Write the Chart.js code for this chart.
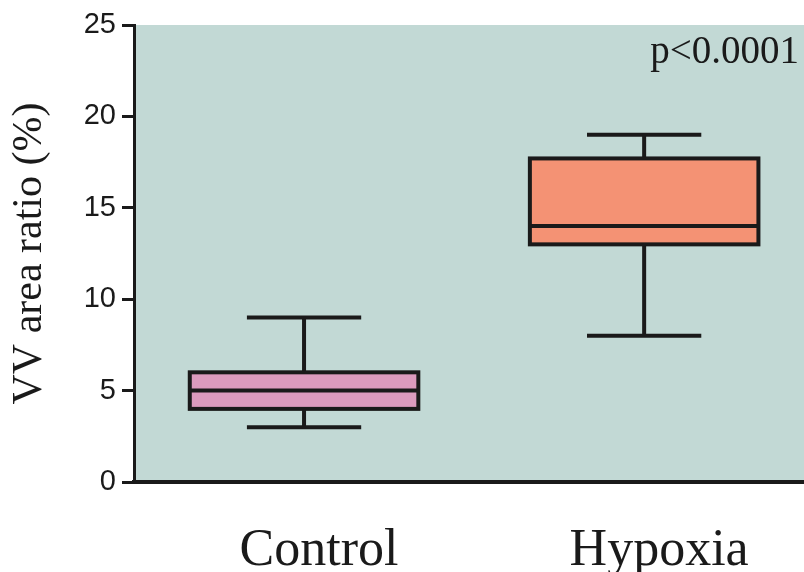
<!DOCTYPE html>
<html>
<head>
<meta charset="utf-8">
<script src="https://cdn.jsdelivr.net/npm/chart.js@4.4.1/dist/chart.umd.min.js"></script>
<style>
  html,body{margin:0;padding:0;background:#fff;}
  #wrap{width:804px;height:572px;}
</style>
</head>
<body>
<div id="wrap"><canvas id="box"></canvas></div>
<script>
    // Data
    const categories = ['Control','Hypoxia'];
    const whiskerLow = [3, 8];
    const q1 = [4, 13];
    const median = [5, 14];
    const q3 = [6, 17.7];
    const whiskerHigh = [9, 19];
    const yTicks = [0,5,10,15,20,25];
    const boxColors = ['#dc9bbe','#f49274'];
    const pText = 'p<0.0001';

    const ink = '#1a1a1a';

    // plot background + box outline, median, whiskers
    const boxPlot = {
      id:'boxPlot',
      beforeDraw(chart){
        const {ctx, chartArea:a} = chart;
        ctx.save();
        ctx.fillStyle = '#c2d9d5';
        ctx.fillRect(a.left, a.top, a.right-a.left, a.bottom-a.top);
        ctx.restore();
      },
      afterDatasetsDraw(chart){
        const {ctx} = chart;
        const y = chart.scales.y;
        const meta = chart.getDatasetMeta(0);
        ctx.save();
        ctx.strokeStyle = ink;
        ctx.lineWidth = 4;
        meta.data.forEach((el,i)=>{
          const half = el.width/2;
          const cap = el.width/4;
          const top = y.getPixelForValue(q3[i]), bot = y.getPixelForValue(q1[i]);
          const med = y.getPixelForValue(median[i]);
          const hi = y.getPixelForValue(whiskerHigh[i]), lo = y.getPixelForValue(whiskerLow[i]);
          ctx.beginPath();
          // whiskers
          ctx.moveTo(el.x, top); ctx.lineTo(el.x, hi);
          ctx.moveTo(el.x-cap, hi); ctx.lineTo(el.x+cap, hi);
          ctx.moveTo(el.x, bot); ctx.lineTo(el.x, lo);
          ctx.moveTo(el.x-cap, lo); ctx.lineTo(el.x+cap, lo);
          // median
          ctx.moveTo(el.x-half, med); ctx.lineTo(el.x+half, med);
          ctx.stroke();
          ctx.strokeRect(el.x-half, top, el.width, bot-top);
        });
        // p value
        ctx.fillStyle = ink;
        ctx.font = '39px "Liberation Serif"';
        ctx.textAlign = 'right';
        ctx.textBaseline = 'alphabetic';
        ctx.fillText(pText, chart.chartArea.right-5, 63);
        ctx.restore();
      }
    };

    document.addEventListener('DOMContentLoaded',()=>{
      const ctx = document.getElementById('box').getContext('2d');
      new Chart(ctx, {
        type:'bar',
        data:{
          datasets:[{
            data: categories.map((c,i)=>({x:i+1, y:[q1[i], q3[i]]})),
            backgroundColor: boxColors,
            borderWidth:0,
            barPercentage:0.672,
            categoryPercentage:1
          }]
        },
        options:{
          responsive:true,
          maintainAspectRatio:false,
          animation:false,
          layout:{padding:{top:25,right:0,left:0,bottom:0}},
          plugins:{legend:{display:false},tooltip:{enabled:false}},
          scales:{
            x:{
              type:'linear',
              min:0.5, max:2.47,
              offset:false,
              grid:{display:false, offset:false},
              border:{display:true, color:ink, width:4},
              afterBuildTicks:(ax)=>{ ax.ticks = categories.map((c,i)=>({value:i+1})); },
              afterFit:(ax)=>{ ax.height = 90; },
              ticks:{
                autoSkip:false, maxRotation:0, padding:30, labelOffset:15,
                color:ink,
                font:{family:'Liberation Serif', size:52},
                callback:(v)=> categories[v-1]
              }
            },
            y:{
              min:0, max:25,
              afterBuildTicks:(ax)=>{ ax.ticks = yTicks.map(v=>({value:v})); },
              afterFit:(ax)=>{ ax.width = 134; },
              grid:{display:true, drawOnChartArea:false, drawTicks:true, tickLength:12, tickWidth:3, tickColor:ink},
              border:{display:true, color:ink, width:3},
              ticks:{padding:6, color:ink, font:{family:'Liberation Sans', size:29}},
              title:{display:true, text:'VV area ratio (%)', color:ink,
                     font:{family:'Liberation Serif', size:42}, padding:{top:5,bottom:0}}
            }
          }
        },
        plugins:[boxPlot]
      });
    });
</script>
</body>
</html>
